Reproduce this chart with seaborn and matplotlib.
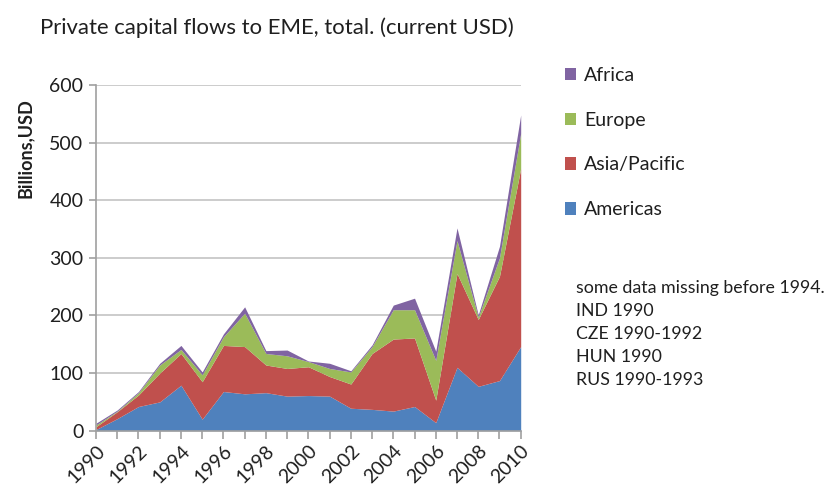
import matplotlib
matplotlib.use("Agg")
import matplotlib.pyplot as plt
from matplotlib.patches import Patch
import seaborn as sns

years = list(range(1990, 2011))
americas = [2, 21, 42, 50, 79, 20, 68, 64, 66, 60, 61, 60, 39, 37, 34, 42, 14, 110, 77, 87, 146]
asia_pacific = [5, 12, 20, 50, 55, 65, 80, 82, 48, 48, 50, 34, 42, 97, 125, 119, 39, 163, 116, 181, 309]
europe = [3, 1, 4, 14, 7, 12, 15, 58, 20, 22, 9, 14, 21, 12, 51, 49, 69, 57, 4, 32, 61]
africa = [3, 2, 2, 3, 7, 5, 5, 11, 5, 10, 1, 9, 2, 3, 8, 20, 16, 22, 4, 20, 32]

series_names = ["Americas", "Asia/Pacific", "Europe", "Africa"]
colors = ["#4F81BD", "#C0504D", "#9BBB59", "#8064A2"]

note_lines = ["some data missing before 1994.", "IND 1990", "CZE 1990-1992",
              "HUN 1990", "RUS 1990-1993"]

sns.set_theme(style="white")
plt.rcParams["font.family"] = ["Lato", "DejaVu Sans"]
text_color = "#1f1f1f"

fig = plt.figure(figsize=(8.32, 4.86), dpi=100)
ax = fig.add_axes([96 / 832, 1 - 430.7 / 486, (520.7 - 96) / 832, (430.7 - 85) / 486])

ax.stackplot(years, americas, asia_pacific, europe, africa,
             colors=colors, linewidth=0, zorder=3)

ax.set_xlim(1990, 2010)
ax.set_ylim(0, 600)
ax.set_yticks(range(0, 601, 100))
ax.set_xticks(years, minor=True)
ax.set_xticks(range(1990, 2011, 2))
ax.set_xticklabels([str(y) for y in range(1990, 2011, 2)], rotation=45,
                   ha="right", va="top", rotation_mode="anchor")
ax.yaxis.grid(True, color="#c8c8c8", linewidth=1.3, zorder=0)
ax.xaxis.grid(False)

for side in ["top", "right"]:
    ax.spines[side].set_visible(False)
for side in ["left", "bottom"]:
    ax.spines[side].set_color("#a0a0a0")
    ax.spines[side].set_linewidth(1.2)
    ax.spines[side].set_zorder(4)

ax.tick_params(axis="both", which="both", direction="out", color="#a0a0a0",
               width=1.2, labelcolor=text_color, labelsize=14)
ax.tick_params(axis="x", which="both", length=6, bottom=True, pad=2)
ax.tick_params(axis="y", length=5, left=True, pad=4)

fig.text(40 / 832, 1 - 28 / 486, "Private capital flows to EME, total. (current USD)",
         fontsize=15.9, color=text_color, ha="left", va="center")
fig.text(25 / 832, 1 - 148 / 486, "Billions,USD", rotation=90, fontsize=13,
         fontweight="bold", color=text_color, ha="center", va="center")

handles = [Patch(facecolor=c, edgecolor="none") for c in colors[::-1]]
fig.legend(handles, series_names[::-1], loc="upper left",
           bbox_to_anchor=(557 / 832, 1 - 59 / 486), frameon=False,
           fontsize=14, handlelength=0.6, handleheight=0.6, handletextpad=0.4,
           labelspacing=1.43, labelcolor=text_color, borderaxespad=0)

for i, line in enumerate(note_lines):
    fig.text(576 / 832, 1 - (288 + 23 * i) / 486, line, fontsize=12.8,
             color=text_color, ha="left", va="center")

fig.savefig("out.png", dpi=100)
